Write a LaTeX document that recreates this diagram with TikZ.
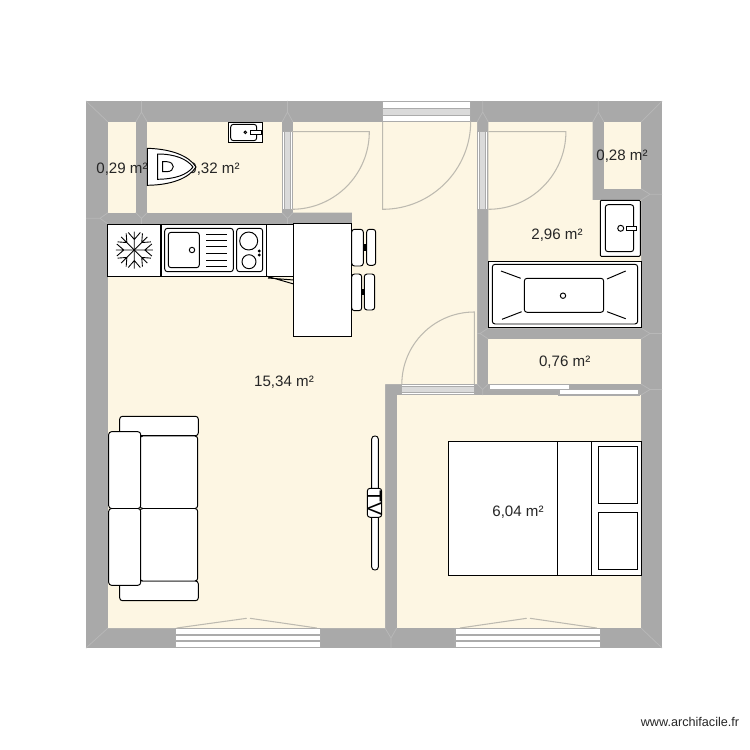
\documentclass[tikz,border=0pt]{standalone}
\usepackage{fontspec}
\setmainfont{Liberation Sans}
\usepackage{xcolor}
\usepackage{tikz}
\usetikzlibrary{arrows.meta}
\definecolor{wallgray}{HTML}{A9A9A9}
\definecolor{roomcream}{HTML}{FDF6E3}
\definecolor{seamgray}{HTML}{B8B8B8}
\definecolor{panegray}{HTML}{DADADA}
\definecolor{framegray}{HTML}{ABABAB}
\definecolor{leafgray}{HTML}{BDBAB0}
\tikzset{
    room/.style={fill=roomcream},
    furniture/.style={draw=black, fill=white, line width=0.55pt},
    softbox/.style={furniture, rounded corners=1.6pt},
    pane/.style={draw=framegray, fill=white, line width=0.6pt},
    band/.style={draw=framegray, fill=panegray, line width=0.5pt},
    leaf/.style={draw=leafgray, line width=0.6pt},
    seam/.style={draw=seamgray, line width=0.4pt},
    area/.style={font=\fontsize{8.6pt}{10pt}\selectfont, text=black!85, inner sep=0pt},
}

\begin{document}
\begin{tikzpicture}[x=0.02cm, y=-0.02cm]
    \useasboundingbox (0,0) rectangle (750,750);

    % walls
    \fill[wallgray] (86,101) rectangle (662,648);

    % rooms
    \fill[room] (108,122) rectangle (135.7,212.7);
    \fill[room] (147.3,122) rectangle (282,212.7);
    \fill[room] (293,122) -- (477,122) -- (477,384) -- (385,384) -- (385,628)
        -- (108,628) -- (108,224) -- (352,224) -- (352,212.7) -- (293,212.7) -- cycle;
    \fill[room] (488.3,122) -- (592.7,122) -- (592.7,200) -- (641,200)
        -- (641,328) -- (488.3,328) -- cycle;
    \fill[room] (604,122) rectangle (641,188.7);
    \fill[room] (488.3,339) rectangle (641,384);
    \fill[room] (396.7,395) rectangle (641,628);

    % wall seams
    \draw[seam] (86,101) -- (108,122);
    \draw[seam] (662,101) -- (641,122);
    \draw[seam] (86,648) -- (108,628);
    \draw[seam] (662,648) -- (641,628);
    \foreach \x/\l/\r in {141.5/135.7/147.3, 287.5/282/293, 482.7/477/488.3, 598.3/592.7/604} {
        \draw[seam] (\l,122) -- (\x,112) -- (\r,122) (\x,112) -- (\x,101);
    }
    \foreach \x/\l/\r in {141.5/135.7/147.3, 287.5/282/293} {
        \draw[seam] (\l,212.7) -- (\x,218.3) -- (\r,212.7) (\x,218.3) -- (\x,224);
    }
    \foreach \y/\t/\b in {194.3/188.7/200, 333.5/328/339, 389.5/384/395} {
        \draw[seam] (641,\t) -- (650,\y) -- (641,\b) (650,\y) -- (662,\y);
    }
    \draw[seam] (108,212.7) -- (100,218.3) -- (108,224) (100,218.3) -- (86,218.3);
    \draw[seam] (385,628) -- (391,638) -- (396.7,628) (391,638) -- (391,648);
    \draw[seam] (488.3,328) -- (480,333.5) -- (488.3,339) (480,333.5) -- (477,333.5);
    \draw[seam] (477,384) -- (482.7,389.5) -- (488.3,384) (482.7,389.5) -- (482.7,395);

    % door strips
    \draw[pane] (282.5,131.7) rectangle (292.5,209.3);
    \draw[band] (284.5,131.7) rectangle (290.5,209.3);
    \draw[pane] (477.5,131.7) rectangle (487.8,209.3);
    \draw[band] (479.5,131.7) rectangle (485.8,209.3);
    \draw[pane] (401.7,384.5) rectangle (474.3,394.5);
    \draw[band] (401.7,386.5) rectangle (474.3,392.5);

    % windows
    \draw[pane] (382.7,101.5) rectangle (470.7,121.5);
    \draw[band] (382.7,108.3) rectangle (470.7,115);
    \draw[pane] (175.7,628.5) rectangle (320.7,647.5);
    \draw[pane] (175.7,635) rectangle (320.7,641);
    \draw[pane] (455,628.5) rectangle (600.7,647.5);
    \draw[pane] (455,635) rectangle (600.7,641);

    % sliding window
    \draw[pane] (489,384.5) rectangle (569.3,390);
    \draw[pane] (559,389.5) rectangle (639,395);

    % door leaves
    \draw[leaf] (291.7,209.3) arc[start angle=90, end angle=0, radius=77.6] -- (291.7,131.7);
    \draw[leaf] (382.7,122) -- (382.7,209.3) arc[start angle=90, end angle=0, radius=88];
    \draw[leaf] (488.3,209.3) arc[start angle=90, end angle=0, radius=77.6] -- (488.3,131.7);
    \draw[leaf] (474.3,384) -- (474.3,312) arc[start angle=-90, end angle=-180, radius=72.5];

    % window leaves
    \draw[leaf] (176.7,628) -- (246.7,618.3) (250,618.3) -- (316.7,628);
    \draw[leaf] (460,628) -- (526.7,618.3) (530,618.3) -- (596.7,628);

    % this label lies under the toilet
    \node[area] (wclabel) at (214,169) {0,32 m²};

    % toilet
    \draw[furniture] (147.3,148.3) .. controls (172,149) and (189,156) .. (196,167)
        .. controls (189,178) and (172,185) .. (147.3,185.3) -- cycle;
    \draw[furniture] (157.7,154) .. controls (175,154) and (187,159) .. (193,167)
        .. controls (187,175) and (175,179) .. (157.7,179.3) -- cycle;
    \draw[furniture] (162.7,161.7) -- (167,161.7) .. controls (171,162) and (173.3,164) .. (173.3,166.7)
        .. controls (173.3,169.5) and (171,171.5) .. (167,171.7) -- (162.7,171.7) -- cycle;

    % small basin
    \draw[furniture] (228.3,122.3) rectangle (262.7,142.3);
    \draw[softbox] (230.7,124.3) rectangle (256.7,140.7);
    \draw[furniture] (245.3,132.3) circle[radius=1.3];
    \draw[furniture] (250.7,130.7) rectangle (261,134);

    % fridge
    \draw[furniture] (107.7,224.3) rectangle (160,276);
    \foreach \ang in {0,45,...,315} {
        \begin{scope}[shift={(134.3,250)}, rotate=\ang]
            \draw[line width=0.5pt] (0,0) -- (18.5,0) (10.5,0) -- (17.5,6) (10.5,0) -- (17.5,-6);
        \end{scope}
    }

    % sink and hob
    \draw[furniture] (161.3,224.3) rectangle (266,276);
    \draw[softbox] (164.7,228.3) rectangle (233.3,271.7);
    \draw[softbox] (168.3,232.3) rectangle (199.3,267.7);
    \draw[furniture] (192,250) circle[radius=2.7];
    \foreach \y in {234,240,246.7,253.3,260,266} {
        \draw[line width=0.55pt] (206,\y) -- (227.3,\y);
    }
    \draw[softbox] (236.7,228.3) rectangle (262.7,271.7);
    \draw[furniture] (248.7,241) circle[radius=9];
    \draw[furniture] (249,261.7) circle[radius=7];
    \draw[furniture] (259.3,251) circle[radius=1];
    \draw[furniture] (259.3,255) circle[radius=1];

    % counter end
    \draw[furniture] (266.7,224.3) rectangle (293.7,276.3);
    \draw[line width=0.55pt] (267,276.3) -- (293.7,284) (268,278) -- (293.7,280);

    % table
    \draw[furniture] (293.7,223.3) rectangle (351.7,336.7);

    % chairs
    \draw[softbox] (351.7,229.3) rectangle (363.3,266);
    \draw[softbox] (366.7,229.3) rectangle (375.7,265.3);
    \fill[black] (363.7,244) rectangle (366.7,251);
    \draw[softbox] (351.7,274) rectangle (361.7,310.7);
    \draw[softbox] (364.3,274) rectangle (374.7,310);
    \fill[black] (361.7,289) rectangle (365,294.7);

    % bath
    \draw[furniture] (488.3,261.7) rectangle (641.7,327.3);
    \draw[softbox] (492.3,264.3) rectangle (637.7,324);
    \draw[softbox] (524.3,278.3) rectangle (603.7,312.3);
    \draw[furniture] (563,295.7) circle[radius=2.7];
    \draw[line width=0.55pt] (501,271) -- (520.7,278.3) (625.7,271) -- (607,279);
    \draw[line width=0.55pt] (502,319.3) -- (521.7,311.7) (625.7,318.7) -- (607,311.7);

    % bathroom basin
    \draw[furniture, rounded corners=0.6pt] (600.3,200.3) rectangle (640.3,256.3);
    \draw[softbox] (605.3,204.7) rectangle (633.7,251.7);
    \draw[furniture] (620.7,228.3) circle[radius=3];
    \draw[furniture] (626.3,226.3) rectangle (636.7,230.3);

    % sofa
    \draw[softbox] (119.7,416.3) rectangle (198.3,435.7);
    \draw[softbox] (119.7,581) rectangle (198.3,600.7);
    \draw[softbox] (140,436) rectangle (197.7,508.5);
    \draw[softbox] (140,508.5) rectangle (197.7,581);
    \draw[softbox] (108.7,431.7) rectangle (140.7,508.5);
    \draw[softbox] (108.7,508.5) rectangle (140.7,585.3);

    % television
    \draw[furniture, rounded corners=1.7pt] (371.7,436) rectangle (378.3,570);
    \draw[softbox] (367.3,488.3) rectangle (381.7,517.3);
    \node[area, rotate=-90, font=\fontsize{11pt}{12pt}\selectfont, text=black] (tvlabel) at (374.5,503) {TV};

    % bed
    \draw[furniture] (448.7,441.3) rectangle (641.3,575.3);
    \draw[line width=0.55pt] (557.3,441.3) -- (557.3,575.3) (591.7,441.3) -- (591.7,575.3);
    \draw[furniture] (598.7,446) rectangle (637.7,503.3);
    \draw[furniture] (598.7,512.3) rectangle (637.7,569.3);

    % surfaces
    \node[area] (closetleft) at (122,169) {0,29 m²};
    \node[area] (closetright) at (622,156.5) {0,28 m²};
    \node[area] (bathroom) at (557,235) {2,96 m²};
    \node[area] (hallway) at (564.7,362.5) {0,76 m²};
    \node[area] (livingroom) at (284,382) {15,34 m²};
    \node[area] (bedroom) at (518,512.5) {6,04 m²};

    \node[inner sep=0pt, font=\fontsize{7.2pt}{8pt}\selectfont, text=black!85] (sitemark) at (690,722) {www.archifacile.fr};
\end{tikzpicture}
\end{document}
